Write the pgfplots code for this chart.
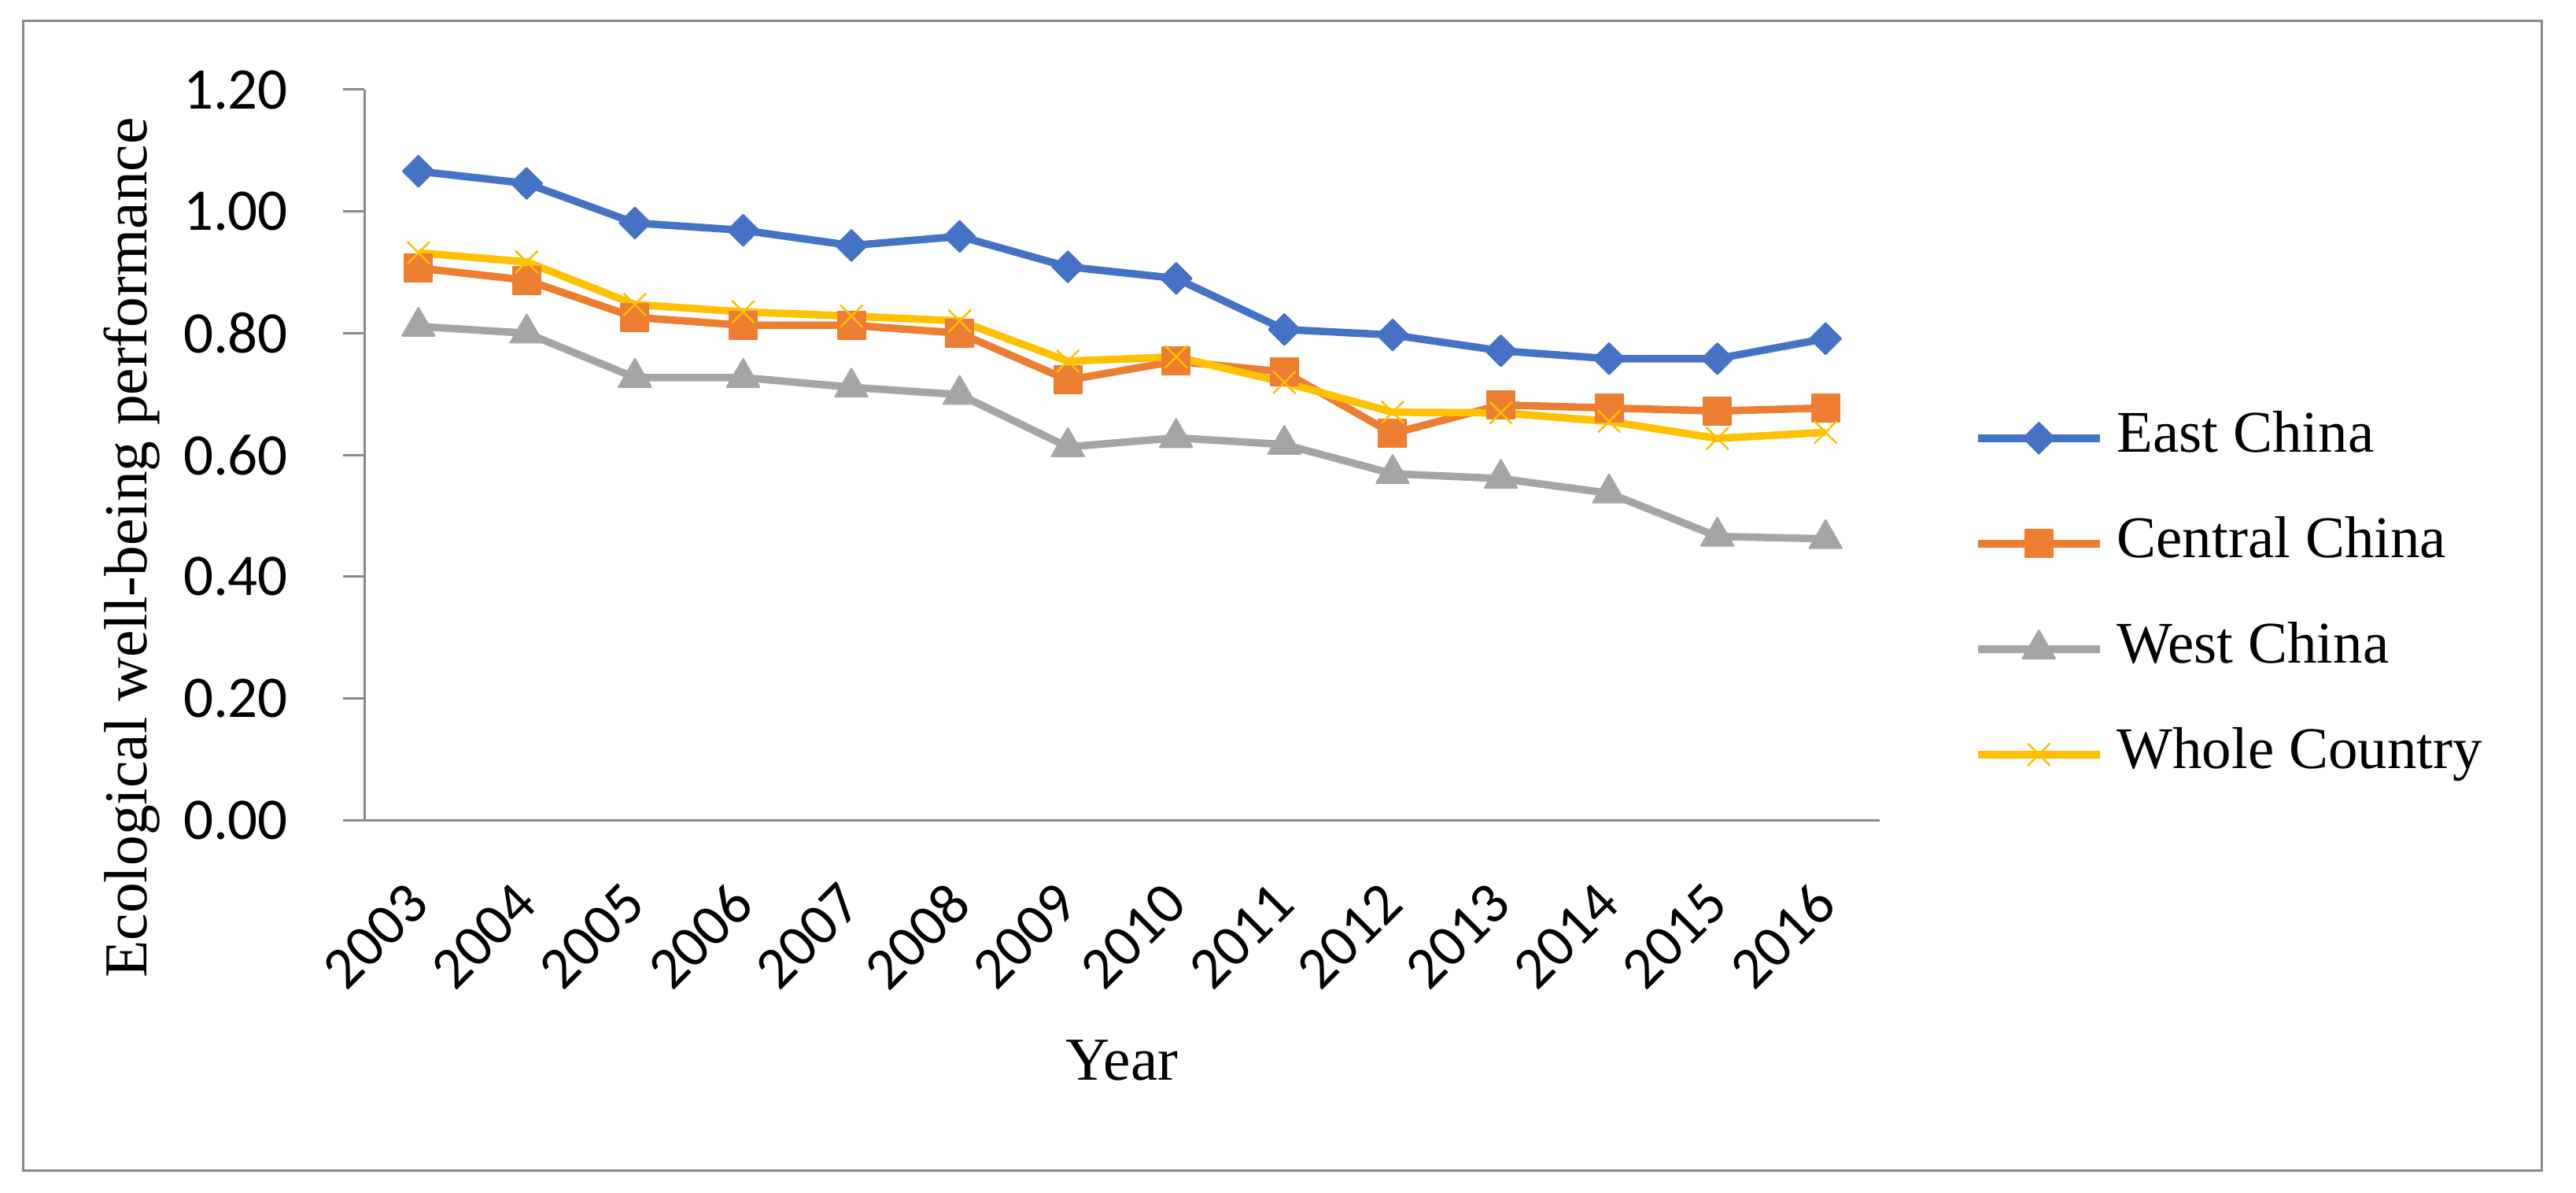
\documentclass[border=0pt]{standalone}
\usepackage{fontspec}
\setmainfont{Liberation Serif}
\newfontfamily\calibri{Carlito}
\usepackage{pgfplots}
\pgfplotsset{compat=1.18}

\definecolor{eastc}{HTML}{4472C4}
\definecolor{centralc}{HTML}{ED7D31}
\definecolor{westc}{HTML}{A5A5A5}
\definecolor{wholec}{HTML}{FFC000}
\definecolor{axisgray}{HTML}{898989}

\begin{document}
\begin{tikzpicture}
\useasboundingbox (0,0) rectangle (654.8pt,303pt);
\draw[color=axisgray, line width=0.6pt] (5.8pt,5.6pt) rectangle (646pt,297.6pt);
\begin{axis}[
    at={(92.6pt,94.6pt)}, anchor=south west,
    scale only axis, width=385.2pt, height=185.6pt,
    xmin=-0.5, xmax=13.5, ymin=0, ymax=1.2,
    axis x line*=bottom, axis y line*=left,
    axis line style={color=axisgray, line width=0.6pt, -},
    xtick={0,1,2,3,4,5,6,7,8,9,10,11,12,13},
    xticklabels={2003,2004,2005,2006,2007,2008,2009,2010,2011,2012,2013,2014,2015,2016},
    ytick={0,0.2,0.4,0.6,0.8,1.0,1.2},
    tick align=outside, major tick length=5.4pt,
    x tick style={draw=none},
    y tick style={color=axisgray, line width=0.6pt},
    /pgf/number format/assume math mode=true,
    tick label style={font=\calibri\fontsize{15}{18}\selectfont},
    yticklabel style={/pgf/number format/fixed, /pgf/number format/fixed zerofill,
        /pgf/number format/precision=2, inner sep=0pt, anchor=east, xshift=-13.8pt},
    xticklabel style={inner sep=0pt, yshift=-13.2pt, rotate=45, anchor=east},
    xlabel={Year},
    xlabel style={at={(axis description cs:0.5,-0.3287)}, anchor=center,
        font=\fontsize{15.5}{18}\selectfont},
    ylabel={Ecological well-being performance},
    ylabel style={at={(axis description cs:-0.1532,0.3728)}, anchor=center,
        font=\fontsize{15.5}{18}\selectfont},
    legend style={at={(axis description cs:1.0618,0.559)}, anchor=north west,
        draw=none, fill=none, inner sep=0pt, row sep=13.8pt, column sep=3.4pt,
        font=\fontsize{15}{18}\selectfont,
        nodes={inner sep=0pt, text height=10pt, text depth=3pt}},
    legend cell align=left,
    legend image code/.code={\draw[mark repeat=2, mark phase=2]
        plot coordinates {(0pt,0pt)(15.5pt,0pt)(31pt,0pt)};},
]
\addplot[color=eastc, line width=1.9pt, line join=round,
    mark=square*, mark size=2.8pt, mark options={rotate=45, line width=0.4pt}]
    coordinates {(0,1.066) (1,1.046) (2,0.981) (3,0.969) (4,0.944) (5,0.959) (6,0.909)
    (7,0.890) (8,0.806) (9,0.797) (10,0.771) (11,0.758) (12,0.758) (13,0.791)};
\addlegendentry{East China}
\addplot[color=centralc, line width=1.9pt, line join=round,
    mark=square*, mark size=3.5pt, mark options={line width=0.4pt}]
    coordinates {(0,0.907) (1,0.887) (2,0.826) (3,0.813) (4,0.813) (5,0.800) (6,0.723)
    (7,0.754) (8,0.736) (9,0.635) (10,0.682) (11,0.677) (12,0.672) (13,0.677)};
\addlegendentry{Central China}
\addplot[color=westc, line width=1.9pt, line join=round,
    mark=triangle*, mark size=4.8pt, mark options={line width=0.4pt}]
    coordinates {(0,0.811) (1,0.800) (2,0.727) (3,0.727) (4,0.711) (5,0.699) (6,0.613)
    (7,0.628) (8,0.617) (9,0.569) (10,0.561) (11,0.537) (12,0.466) (13,0.462)};
\addlegendentry{West China}
\addplot[color=wholec, line width=1.9pt, line join=round,
    mark=x, mark size=4pt, mark options={line width=0.5pt}]
    coordinates {(0,0.932) (1,0.917) (2,0.847) (3,0.835) (4,0.828) (5,0.820) (6,0.754)
    (7,0.761) (8,0.719) (9,0.670) (10,0.669) (11,0.655) (12,0.627) (13,0.637)};
\addlegendentry{Whole Country}
\end{axis}
\end{tikzpicture}
\end{document}
